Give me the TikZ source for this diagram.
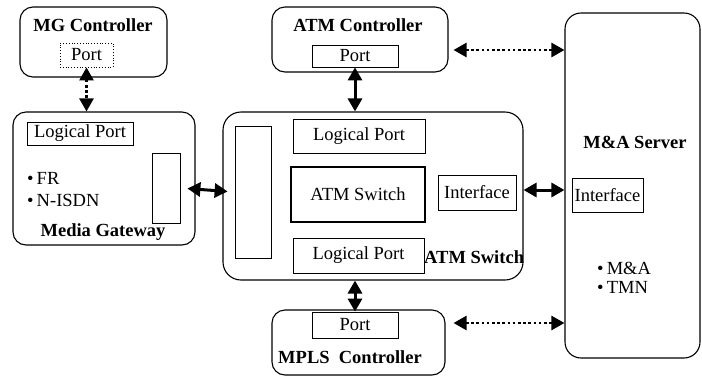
\documentclass[tikz,border=0pt]{standalone}
\usepackage{fontspec}
\setmainfont{Liberation Serif}
\usetikzlibrary{arrows.meta}
\begin{document}
\begin{tikzpicture}[x=1pt,y=-1pt,
  every node/.style={font=\fontsize{18.5}{21}\selectfont},
  rbox/.style={draw, line width=1.1pt, rounded corners=13pt, inner sep=0pt},
  ibox/.style={draw, line width=0.8pt, inner sep=0pt},
  title/.style={font=\fontsize{18.5}{21}\selectfont\bfseries},
  txt/.style={inner sep=0pt},
  solidarrow/.style={line width=3pt, {Triangle[length=13pt,width=14pt]}-{Triangle[length=13pt,width=14pt]}},
  dotarrow/.style={line width=2.6pt, dash pattern=on 2.6pt off 2.6pt, {Triangle[length=13pt,width=14pt]}-{Triangle[length=13pt,width=14pt]}}
]
\useasboundingbox (0,0) rectangle (702,376);
% MG Controller
\node[rbox, minimum width=147pt, minimum height=70pt] (MGC) at (93.5,42) {};
\node[title] (MGCt) at (93,25) {MG Controller};
\node[ibox, dotted, minimum width=53pt, minimum height=24pt] (MGCport) at (86.5,55) {Port};
% Media Gateway
\node[rbox, minimum width=182pt, minimum height=133pt] (MGW) at (104,178.5) {};
\node[ibox, minimum width=106pt, minimum height=23pt] (MGWlp) at (80,133.5) {Logical Port};
\node[ibox, minimum width=28pt, minimum height=70pt] (MGWs) at (166,188) {};
\node[txt, anchor=west] (FR) at (27,178) {\textbullet\,FR};
\node[txt, anchor=west] (NISDN) at (27,200) {\textbullet\,N-ISDN};
\node[title] (MGWt) at (103,232) {Media Gateway};
% ATM Controller
\node[rbox, minimum width=176pt, minimum height=65pt] (ATMC) at (360,39.5) {};
\node[title] (ATMCt) at (358,25) {ATM Controller};
\node[ibox, minimum width=86pt, minimum height=22pt] (ATMCport) at (355,56) {Port};
% ATM Switch
\node[rbox, rounded corners=18pt, minimum width=300pt, minimum height=168pt] (ATMS) at (373,196) {};
\node[ibox, minimum width=36pt, minimum height=132pt] (ATMSt) at (253,192) {};
\node[ibox, minimum width=132pt, minimum height=34pt] (LP1) at (359,136) {Logical Port};
\node[draw, line width=2pt, inner sep=0pt, minimum width=134pt, minimum height=55pt] (ASW) at (358,194.5) {ATM Switch};
\node[ibox, minimum width=78pt, minimum height=35pt] (IF1) at (477,192.5) {Interface};
\node[ibox, minimum width=131pt, minimum height=35pt] (LP2) at (358.5,255.5) {Logical Port};
\node[title, txt, anchor=west] (ASWt) at (424,257) {ATM Switch};
% M&A Server
\node[rbox, rounded corners=16pt, minimum width=135pt, minimum height=345pt] (MA) at (632.5,185.5) {};
\node[title] (MAt) at (635,142) {M\&A Server};
\node[ibox, minimum width=71pt, minimum height=34pt] (IF2) at (607.5,195) {Interface};
\node[txt, anchor=west] (MAb) at (597,268) {\textbullet\,M\&A};
\node[txt, anchor=west] (TMN) at (597,287) {\textbullet\,TMN};
% MPLS Controller
\node[rbox, minimum width=173pt, minimum height=65pt] (MPLS) at (358.5,342.5) {};
\node[ibox, minimum width=86pt, minimum height=26pt] (MPLSport) at (355,325) {Port};
\node[title] (MPLSt) at (350,357) {MPLS\ \ Controller};
% connectors
\draw[dotarrow] (MGCport.south) -- (MGCport.south |- MGW.north);
\draw[solidarrow] (ATMCport.south) -- (ATMCport.south |- ATMS.north);
\draw[solidarrow] (MPLSport.north |- ATMS.south) -- (MPLSport.north);
\draw[solidarrow, shorten <=7pt, shorten >=7pt] (MGWs.east) -- (ATMSt.west);
\draw[solidarrow] (ATMS.east |- 0,190) -- (MA.west |- 0,190);
\draw[dotarrow, shorten <=5pt] (ATMC.east |- 0,50) -- (MA.west |- 0,50);
\draw[dotarrow, shorten <=8pt] (MPLS.east |- 0,323) -- (MA.west |- 0,323);
\end{tikzpicture}
\end{document}
